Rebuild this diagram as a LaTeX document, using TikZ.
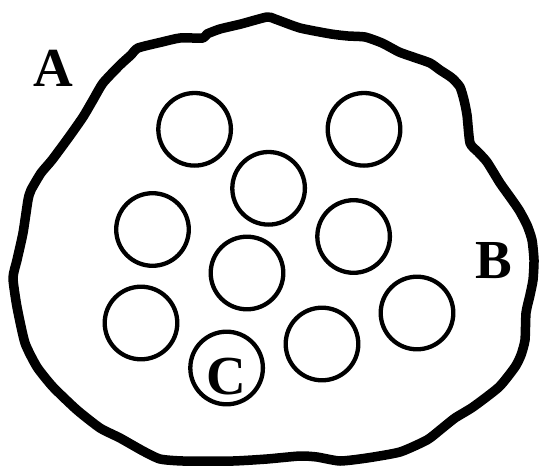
\documentclass[tikz,border=0pt]{standalone}
\usepackage{fontspec}
\setmainfont{Liberation Serif}
\begin{document}
\begin{tikzpicture}[x=1pt,y=-1pt,
  outline/.style={line width=9.5pt,line join=round,line cap=round},
  cell/.style={circle,draw,line width=4.3pt,minimum size=72.6pt,inner sep=0pt},
  lbl/.style={font=\fontsize{55}{60}\selectfont\bfseries,anchor=base,inner sep=0pt}]
\useasboundingbox (0,0) rectangle (540,468);
\draw[outline] plot[smooth cycle,tension=0.35] coordinates {
(267,17) (275,19) (300,28) (331,34) (348,36) (365,37) (382,43) (399,52) (413,57)
(430,63) (440,70) (452,78) (460,87) (464,100) (467,115) (470,143) (478,152)
(487,162) (500,183) (510,197) (519,210) (527,225) (532,240) (534,260) (533,280)
(530,295) (526,313) (525,340) (521,355) (515,367) (499,387) (473,407) (455,418)
(440,430) (427,440) (400,452) (367,458) (340,461) (317,457) (300,456) (267,459)
(233,461) (183,461) (160,459) (143,451) (120,438) (100,428) (77,410) (53,387)
(37,367) (25,343) (17,307) (13,278) (17,260) (23,233) (28,200) (31,190) (41,173)
(52,160) (69,137) (83,117) (93,100) (103,83) (120,65) (131,55) (138,48) (162,42)
(180,38) (203,38) (207,34) (220,29) (241,24)};
\node[cell] (c1) at (194.6,129.3) {};
\node[cell] (c2) at (364,129.3) {};
\node[cell] (c3) at (268.6,188.3) {};
\node[cell] (c4) at (152.5,229.5) {};
\node[cell] (c5) at (353.6,236.5) {};
\node[cell] (c6) at (247,273) {};
\node[cell] (c7) at (141,323) {};
\node[cell] (c8) at (226.6,368) {};
\node[cell] (c9) at (322,344) {};
\node[cell] (c10) at (417,313) {};
\node[lbl] (la) at (53,87) {A};
\node[lbl] (lb) at (494,278) {B};
\node[lbl] (lc) at (226,394) {C};
\end{tikzpicture}
\end{document}
